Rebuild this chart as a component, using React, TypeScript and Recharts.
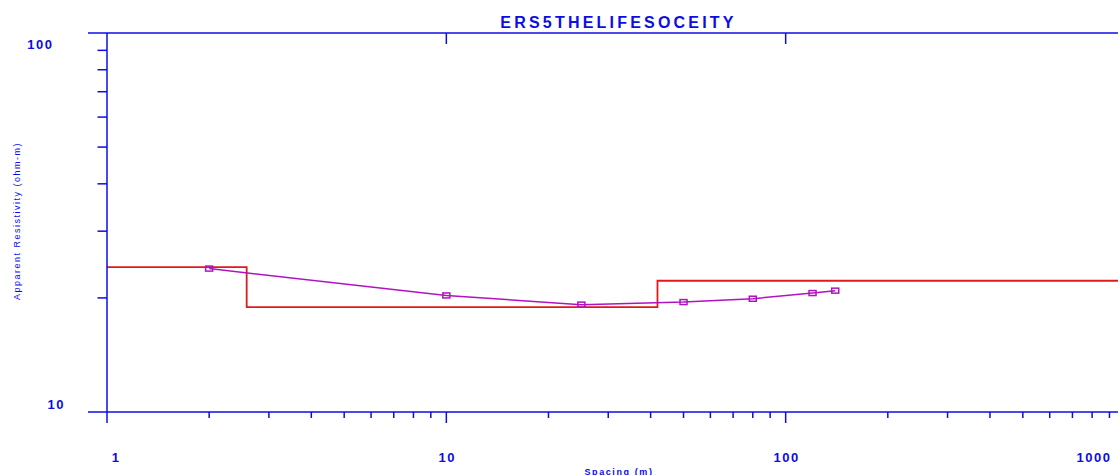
import React from "react";
import { LineChart, Line, XAxis, YAxis } from "recharts";

// sounding curve: observed spacing (m) vs apparent resistivity (ohm-m)
const obsSpacing = [2, 10, 25, 50, 80, 120, 140];
const obsRho = [23.9, 20.3, 19.2, 19.5, 19.9, 20.6, 20.9];

// layered model (step line)
const modelSpacing = [1, 2.58, 41.9, 1000];
const modelRho = [24.1, 18.9, 22.2, 22.2];

const xTicks = [1, 2, 3, 4, 5, 6, 7, 8, 9, 10, 20, 30, 40, 50, 60, 70, 80, 90, 100, 200, 300, 400, 500, 600, 700, 800, 900, 1000];
const xMajor = [1, 10, 100, 1000];
const topTicks = [10, 100];
const yTicks = [10, 20, 30, 40, 50, 60, 70, 80, 90, 100];
const yMajor = [10, 100];

const TITLE = "ERS5THELIFESOCEITY";
const X_LABEL = "Spacing (m)";
const Y_LABEL = "Apparent Resistivity (ohm-m)";

const BLUE = "#0c0ce6";
const RED = "#e01a1a";
const PURPLE = "#b014c0";
const FONT = "Arial, 'Liberation Sans', sans-serif";

const obsData = obsSpacing.map((s, i) => ({ s, rho: obsRho[i] }));
const modelData = modelSpacing.map((s, i) => ({ s, rho: modelRho[i] }));

const xLabelDx: Record<number, number> = { 1: 9, 10: 1, 100: 1, 1000: -31 };
const yLabelPos: Record<number, { x: number; dy: number }> = {
  100: { x: 53.5, dy: 16 },
  10: { x: 65, dy: -3 },
};

const labelStyle = {
  fontFamily: FONT,
  fontSize: 13,
  fontWeight: 700,
  letterSpacing: 1.5,
  fill: BLUE,
};

function BottomTick(props: any) {
  const { x, y, payload } = props;
  const v = payload.value;
  const major = xMajor.includes(v);
  return (
    <g>
      <line x1={x} y1={y} x2={x} y2={y + (major ? 11 : 6)} stroke={BLUE} strokeWidth={1.5} />
      {major && (
        <text x={x + (xLabelDx[v] ?? 0)} y={y + 50} textAnchor="middle" style={labelStyle}>
          {v}
        </text>
      )}
    </g>
  );
}

function TopTick(props: any) {
  const { x, y } = props;
  return <line x1={x} y1={y} x2={x} y2={y + 11} stroke={BLUE} strokeWidth={1.5} />;
}

function LeftTick(props: any) {
  const { x, y, payload } = props;
  const v = payload.value;
  const major = yMajor.includes(v);
  const pos = yLabelPos[v];
  return (
    <g>
      <line x1={x} y1={y} x2={x - (major ? 19 : 9.5)} y2={y} stroke={BLUE} strokeWidth={1.5} />
      {pos && (
        <text x={pos.x} y={y + pos.dy} textAnchor="end" style={labelStyle}>
          {v}
        </text>
      )}
    </g>
  );
}

function SquareDot(props: any) {
  const { cx, cy } = props;
  if (cx == null || cy == null) return null;
  return <rect x={cx - 3.5} y={cy - 2.5} width={7} height={5} fill="none" stroke={PURPLE} strokeWidth={1.5} />;
}

export default function App() {
  return (
    <div
      style={{
        position: "absolute",
        left: 0,
        top: 0,
        width: 1118,
        height: 475,
        overflow: "hidden",
        background: "#fff",
      }}
    >
      <LineChart width={1135} height={475} margin={{ top: 32, right: 10, left: 0, bottom: 0 }}>
        <XAxis
          xAxisId="bottom"
          dataKey="s"
          type="number"
          scale="log"
          domain={[1, 1000]}
          allowDataOverflow
          ticks={xTicks}
          interval={0}
          height={63}
          tickSize={0}
          tickMargin={0}
          tickLine={false}
          axisLine={{ stroke: BLUE, strokeWidth: 1.5 }}
          tick={<BottomTick />}
        />
        <XAxis
          xAxisId="top"
          orientation="top"
          dataKey="s"
          type="number"
          scale="log"
          domain={[1, 1000]}
          allowDataOverflow
          ticks={topTicks}
          interval={0}
          height={1}
          tickSize={0}
          tickMargin={0}
          tickLine={false}
          axisLine={{ stroke: BLUE, strokeWidth: 1.5 }}
          tick={<TopTick />}
        />
        <YAxis
          dataKey="rho"
          type="number"
          scale="log"
          domain={[10, 100]}
          allowDataOverflow
          ticks={yTicks}
          interval={0}
          width={107}
          tickSize={0}
          tickMargin={0}
          tickLine={false}
          axisLine={{ stroke: BLUE, strokeWidth: 1.5 }}
          tick={<LeftTick />}
        />
        <Line
          xAxisId="bottom"
          data={modelData}
          dataKey="rho"
          type="stepAfter"
          stroke={RED}
          strokeWidth={1.8}
          dot={false}
          isAnimationActive={false}
        />
        <Line
          xAxisId="bottom"
          data={obsData}
          dataKey="rho"
          type="linear"
          stroke={PURPLE}
          strokeWidth={1.5}
          dot={<SquareDot />}
          isAnimationActive={false}
        />
        <text
          x={618.5}
          y={27.5}
          textAnchor="middle"
          style={{ fontFamily: FONT, fontSize: 16, fontWeight: 700, letterSpacing: 3.2, fill: BLUE }}
        >
          {TITLE}
        </text>
        <text
          x={619}
          y={474.5}
          textAnchor="middle"
          style={{ fontFamily: FONT, fontSize: 9, fontWeight: 700, letterSpacing: 1.6, fill: BLUE }}
        >
          {X_LABEL}
        </text>
        <text
          transform="translate(19.5, 221) rotate(-90)"
          textAnchor="middle"
          style={{ fontFamily: FONT, fontSize: 9, letterSpacing: 1.5, fill: BLUE }}
        >
          {Y_LABEL}
        </text>
      </LineChart>
    </div>
  );
}
